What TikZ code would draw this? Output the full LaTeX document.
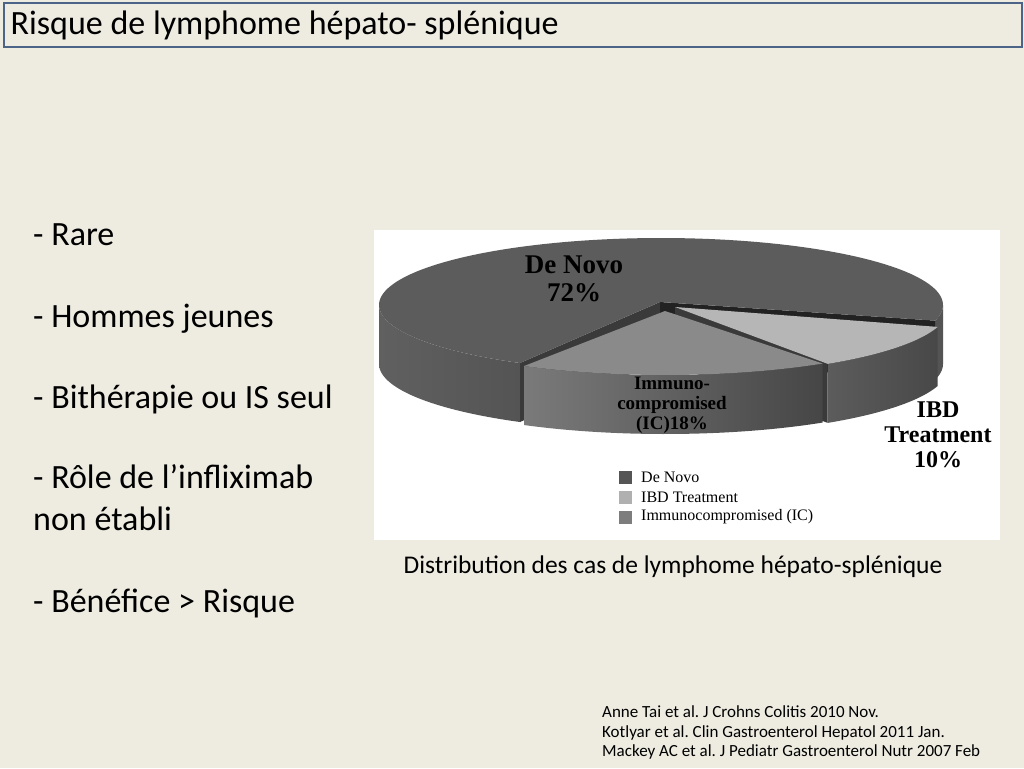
\documentclass[tikz,border=0pt]{standalone}
\usepackage{fontspec}
\setmainfont{Carlito}
\newfontfamily\chartfont{Liberation Serif}
\definecolor{bgcol}{HTML}{EEECE1}
\definecolor{titleblue}{RGB}{75,100,135}
\definecolor{dnTop}{RGB}{92,92,92}
\definecolor{dnSideL}{RGB}{96,96,96}
\definecolor{dnSideR}{RGB}{84,84,84}
\definecolor{wallA}{RGB}{58,58,58}
\definecolor{wallB}{RGB}{34,34,34}
\definecolor{ibdTop}{RGB}{182,182,182}
\definecolor{ibdSideL}{RGB}{92,92,92}
\definecolor{ibdSideR}{RGB}{72,72,72}
\definecolor{icTop}{RGB}{138,138,138}
\definecolor{icSideL}{RGB}{122,122,122}
\definecolor{icSideR}{RGB}{70,70,70}
\definecolor{legDN}{RGB}{85,85,85}
\definecolor{legIBD}{RGB}{176,176,176}
\definecolor{legIC}{RGB}{125,125,125}
\frenchspacing
\begin{document}
\begin{tikzpicture}[x=1pt,y=-1pt,
  bodytext/.style={anchor=base west,inner sep=0pt,font=\fontsize{34}{41}\selectfont},
  reftext/.style={anchor=base west,inner sep=0pt,font=\fontsize{17}{19.5}\selectfont},
  leglabel/.style={anchor=west,inner sep=0pt,font=\chartfont\fontsize{16}{19}\selectfont},
  legsq/.style={minimum size=13pt,inner sep=0pt,draw=none},
  slicelabel/.style={align=center,inner sep=0pt,font=\chartfont\bfseries}]
\useasboundingbox (0,0) rectangle (1024,768);
\fill[bgcol] (0,0) rectangle (1024,768);
% title
\node[draw=titleblue,line width=2pt,fill=bgcol,minimum width=1018pt,minimum height=44pt,anchor=north west,inner sep=0pt] (titlebox) at (2.5,2.5) {};
\node[anchor=base west,inner sep=0pt,font=\fontsize{34}{40}\selectfont] (title) at (10.5,35) {Risque de lymphome hépato- splénique};
% left text
\node[bodytext] (t1) at (33,245) {- Rare};
\node[bodytext] (t2) at (33,327) {- Hommes jeunes};
\node[bodytext] (t3) at (33,408) {- Bithérapie ou IS seul};
\node[bodytext] (t4) at (33,488) {- Rôle de l’infliximab};
\node[bodytext] (t5) at (33,530) {non établi};
\node[bodytext] (t6) at (33,612) {- Bénéfice > Risque};
% chart panel
\node[fill=white,minimum width=626pt,minimum height=310pt,anchor=north west,inner sep=0pt] (panel) at (374,230) {};
% ---- De Novo slice
\shade[left color=dnSideL,right color=dnSideR]
  plot[domain=180:240,samples=40] ({661+282*cos(\x)},{305-67*sin(\x)})
  -- plot[domain=240:180,samples=40] ({661+282*cos(\x)},{364-67*sin(\x)}) -- cycle;
\fill[dnSideR]
  plot[domain=346.5:360,samples=12] ({661+282*cos(\x)},{305-67*sin(\x)})
  -- plot[domain=360:346.5,samples=12] ({661+282*cos(\x)},{364-67*sin(\x)}) -- cycle;
\fill[wallA] (660,302) -- (520,363) -- (520,422) -- (660,361) -- cycle;
\fill[wallB] (660,302) -- (935.2,320.6) -- (935.2,379.6) -- (660,361) -- cycle;
\fill[dnTop] (660,302) -- plot[domain=346.5:600,samples=120] ({661+282*cos(\x)},{305-67*sin(\x)}) -- cycle;
% ---- IBD slice
\shade[left color=ibdSideL,right color=ibdSideR]
  plot[domain=305:344.5,samples=30] ({666+282*cos(\x)},{309-67*sin(\x)})
  -- plot[domain=344.5:305,samples=30] ({666+282*cos(\x)},{368-67*sin(\x)}) -- cycle;
\fill[wallA] (675,307) -- (827.7,363.9) -- (827.7,422.9) -- (675,366) -- cycle;
\fill[ibdTop] (675,307) -- plot[domain=305:344.5,samples=30] ({666+282*cos(\x)},{309-67*sin(\x)}) -- cycle;
% ---- IC slice
\shade[left color=icSideL,right color=icSideR]
  plot[domain=240:304,samples=40] ({665+282*cos(\x)},{308-67*sin(\x)})
  -- plot[domain=304:240,samples=40] ({665+282*cos(\x)},{367-67*sin(\x)}) -- cycle;
\fill[icTop] (665,311) -- plot[domain=240:304,samples=40] ({665+282*cos(\x)},{308-67*sin(\x)}) -- cycle;
% slice labels
\node[slicelabel,font=\chartfont\bfseries\fontsize{27}{28}\selectfont] (lblDN) at (574,279) {De Novo\\72\%};
\node[slicelabel,font=\chartfont\bfseries\fontsize{19}{20}\selectfont] (lblIC) at (672,405) {Immuno-\\compromised\\(IC)18\%};
\node[slicelabel,font=\chartfont\bfseries\fontsize{24}{25}\selectfont] (lblIBD) at (938,435) {IBD\\Treatment\\10\%};
% legend
\node[legsq,fill=legDN] (sq1) at (625,477) {};
\node[legsq,fill=legIBD] (sq2) at (625,497) {};
\node[legsq,fill=legIC] (sq3) at (625,517) {};
\node[leglabel] (lg1) at (641,477) {De Novo};
\node[leglabel] (lg2) at (641,497) {IBD Treatment};
\node[leglabel] (lg3) at (641,517) {Immunocompromised (IC)};
% caption
\node[anchor=base,inner sep=0pt,font=\fontsize{25.5}{30}\selectfont] (caption) at (673,573) {Distribution des cas de lymphome hépato-splénique};
% references
\node[reftext] (r1) at (602,717.5) {Anne Tai et al. J Crohns Colitis 2010 Nov.};
\node[reftext] (r2) at (602,737) {Kotlyar et al. Clin Gastroenterol Hepatol 2011 Jan.};
\node[reftext] (r3) at (602,756.5) {Mackey AC et al. J Pediatr Gastroenterol Nutr 2007 Feb};
\end{tikzpicture}
\end{document}
